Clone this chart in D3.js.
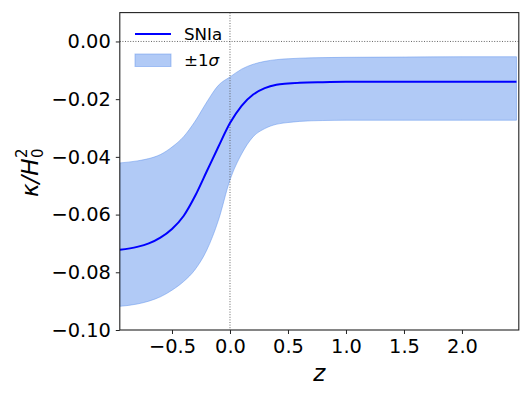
<!DOCTYPE html>
<html>
<head>
<meta charset="utf-8">
<script src="https://cdn.jsdelivr.net/npm/d3@7"></script>
<style>
  body { margin: 0; background: #fff; }
  svg text { font-family: "DejaVu Sans", sans-serif; fill: #000; }
</style>
</head>
<body>
<svg id="chart" width="531" height="399"></svg>
<script>
// redshift grid and curvature values
var zs = [-0.95, -0.8, -0.7, -0.6, -0.5, -0.4, -0.3, -0.2, -0.1, 0, 0.1, 0.2, 0.3, 0.4, 0.5, 0.6, 0.8, 1.0, 1.5, 2.0, 2.47];
var meanK = [-0.0722, -0.0712, -0.0700, -0.0680, -0.0650, -0.0605, -0.0535, -0.0450, -0.0365, -0.0283, -0.0223, -0.0184, -0.0162, -0.0150, -0.0146, -0.0143, -0.0141, -0.0140, -0.0140, -0.0140, -0.0140];
var upperK = [-0.0421, -0.0414, -0.0406, -0.0392, -0.0366, -0.0330, -0.0276, -0.0210, -0.0152, -0.0123, -0.0096, -0.0079, -0.0069, -0.0063, -0.0060, -0.0058, -0.0056, -0.0055, -0.0054, -0.0053, -0.0053];
var lowerK = [-0.0918, -0.0910, -0.0900, -0.0885, -0.0862, -0.0832, -0.0790, -0.0723, -0.0620, -0.0480, -0.0390, -0.0330, -0.0302, -0.0287, -0.0281, -0.0277, -0.0274, -0.0273, -0.0273, -0.0273, -0.0273];
var xTicks = [-0.5, 0.0, 0.5, 1.0, 1.5, 2.0];
var yTicks = [-0.10, -0.08, -0.06, -0.04, -0.02, 0.00];

var plotLeft = 119.8, plotRight = 518.8, plotTop = 12.6, plotBottom = 330;
var svg = d3.select('#chart');

var x = d3.scaleLinear().domain([-0.95, 2.49]).range([plotLeft, plotRight]);
var y = d3.scaleLinear().domain([-0.10, 0.01]).range([plotBottom, plotTop]);

var rows = zs.map(function(z, i) {
  return { z: z, m: meanK[i], hi: upperK[i], lo: lowerK[i] };
});

svg.append('defs').append('clipPath').attr('id', 'clip')
  .append('rect').attr('x', plotLeft).attr('y', plotTop)
  .attr('width', plotRight - plotLeft).attr('height', plotBottom - plotTop);

var plot = svg.append('g').attr('clip-path', 'url(#clip)');

// band
var band = d3.area()
  .x(function(d) { return x(d.z); })
  .y0(function(d) { return y(d.lo); })
  .y1(function(d) { return y(d.hi); })
  .curve(d3.curveMonotoneX);

plot.append('path')
  .datum(rows)
  .attr('d', band)
  .attr('fill', 'cornflowerblue')
  .attr('fill-opacity', 0.5)
  .attr('stroke', 'cornflowerblue')
  .attr('stroke-opacity', 0.5)
  .attr('stroke-width', 1);

// reference lines
plot.append('line')
  .attr('x1', x(0)).attr('x2', x(0))
  .attr('y1', plotTop).attr('y2', plotBottom)
  .attr('stroke', '#555').attr('stroke-width', 0.9)
  .attr('stroke-dasharray', '1,1.6');
plot.append('line')
  .attr('x1', plotLeft).attr('x2', plotRight)
  .attr('y1', y(0)).attr('y2', y(0))
  .attr('stroke', '#555').attr('stroke-width', 0.9)
  .attr('stroke-dasharray', '1,1.6');

// mean curve
var line = d3.line()
  .x(function(d) { return x(d.z); })
  .y(function(d) { return y(d.m); })
  .curve(d3.curveMonotoneX);

plot.append('path')
  .datum(rows)
  .attr('d', line)
  .attr('fill', 'none')
  .attr('stroke', '#0000ff')
  .attr('stroke-width', 2);

// axes
var xAxis = svg.append('g')
  .attr('transform', 'translate(0,' + plotBottom + ')')
  .call(d3.axisBottom(x).tickValues(xTicks).tickFormat(d3.format('.1f')).tickSizeOuter(0).tickSize(4).tickPadding(5));
var yAxis = svg.append('g')
  .attr('transform', 'translate(' + plotLeft + ',0)')
  .call(d3.axisLeft(y).tickValues(yTicks).tickFormat(d3.format('.2f')).tickSizeOuter(0).tickSize(4).tickPadding(5));

[xAxis, yAxis].forEach(function(a) {
  a.select('.domain').remove();
  a.selectAll('.tick line').attr('stroke', '#222').attr('stroke-width', 1);
  a.selectAll('.tick text').attr('font-size', 19.4).attr('font-family', 'DejaVu Sans').attr('fill', '#000');
});

// frame
svg.append('rect')
  .attr('x', plotLeft).attr('y', plotTop)
  .attr('width', plotRight - plotLeft).attr('height', plotBottom - plotTop)
  .attr('fill', 'none').attr('stroke', '#222').attr('stroke-width', 1.1);

// axis labels
svg.append('text')
  .attr('x', (plotLeft + plotRight) / 2).attr('y', 381)
  .attr('text-anchor', 'middle')
  .attr('font-size', 23).attr('font-style', 'italic')
  .text('z');

var yl = svg.append('g').attr('transform', 'translate(38,171) rotate(-90)');
var ylt = yl.append('text').attr('font-size', 23).attr('font-style', 'italic').attr('x', -26).attr('y', 0);
ylt.text('κ/H');
yl.append('text').attr('font-size', 15).attr('x', 13).attr('y', 5).text('0');
yl.append('text').attr('font-size', 15).attr('x', 13).attr('y', -11).text('2');

// legend
var lg = svg.append('g');
lg.append('line')
  .attr('x1', 135).attr('x2', 171).attr('y1', 34).attr('y2', 34)
  .attr('stroke', '#0000ff').attr('stroke-width', 2);
lg.append('text').attr('x', 184).attr('y', 40).attr('font-size', 16.7).text('SNIa');
lg.append('rect')
  .attr('x', 135).attr('y', 54).attr('width', 36).attr('height', 12.5)
  .attr('fill', 'cornflowerblue').attr('fill-opacity', 0.5)
  .attr('stroke', 'cornflowerblue').attr('stroke-opacity', 0.5);
var sig = lg.append('text').attr('x', 184).attr('y', 66).attr('font-size', 16.7);
sig.append('tspan').text('±1');
sig.append('tspan').attr('font-style', 'italic').text('σ');
</script>
</body>
</html>
